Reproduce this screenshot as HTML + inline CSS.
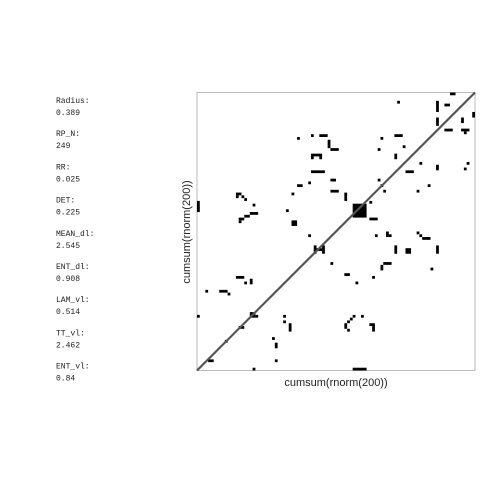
<!DOCTYPE html>
<html><head><meta charset="utf-8"><style>
body{margin:0;background:#fff;width:480px;height:480px;overflow:hidden}
svg{display:block}
.st{font-family:"Liberation Mono",monospace;font-size:8px;fill:#222}
.ax{font-family:"Liberation Sans",sans-serif;font-size:11px;fill:#222}
</style></head><body>
<svg id="chart" width="480" height="480">
<g id="stats"></g>
<rect x="197" y="92.5" width="278" height="278" fill="#fff" stroke="#bbb" stroke-width="1"/>
<g id="cells"></g>
<line id="diag" stroke="#555" stroke-width="2.2"/>
<text class="ax" x="336" y="386" text-anchor="middle">cumsum(rnorm(200))</text>
<text class="ax" x="0" y="0" text-anchor="middle" transform="translate(190,232) rotate(-90)">cumsum(rnorm(200))</text>
</svg>
<script>
const statNames=["Radius:","RP_N:","RR:","DET:","MEAN_dl:","ENT_dl:","LAM_vl:","TT_vl:","ENT_vl:"];
const statValues=["0.389","249","0.025","0.225","2.545","0.908","0.514","2.462","0.84"];
// recurrence blocks: [col,rowFromTop,width,height] in grid units (100x100)
const recCells=[[91,0,2,1],[72,3,1,1],[86,3,1,4],[89,4,2,1],[99,7,1,2],[86,9,1,3],[95,9,1,2],[89,13,3,1],[95,13,3,1],[96,14,1,1],
[71,15,3,1],[41,15,1,1],[44,15,3,1],[36,16,1,1],[66,16,1,1],[47,17,1,3],[48,20,3,1],[74,19,1,1],[65,20,1,1],
[41,22,4,1],[41,23,1,1],[44,23,1,1],[71,22,1,2],[80,25,1,1],[86,26,1,2],[97,25,1,1],[96,27,1,1],[75,28,3,1],[41,28,5,1],
[48,31,2,1],[40,32,1,1],[36,33,2,1],[65,31,1,1],[66,33,1,1],[67,35,1,1],[83,33,1,1],[34,36,1,1],[48,35,3,1],[53,36,1,3],
[14,36,2,1],[14,37,1,1],[16,37,1,1],[17,38,1,1],[20,40,1,1],[79,35,1,1],[56,40,5,5],[62,39,1,1],[0,39,1,4],[32,42,1,1],
[19,43,3,1],[17,44,2,1],[15,45,2,1],[15,46,1,1],[34,46,2,2],[62,45,3,1],[40,51,1,1],[64,51,1,1],[68,50,1,2],[69,51,1,1],
[79,50,1,1],[80,51,1,1],[81,52,3,1],[42,55,1,3],[45,55,1,3],[43,56,2,1],[71,55,1,3],[75,56,2,2],[86,55,1,3],
[48,61,1,1],[67,61,3,1],[66,62,1,2],[84,63,1,1],[53,65,2,1],[57,68,1,1],[63,66,1,1],[14,66,3,1],[17,68,1,1],[19,67,1,2],
[3,71,1,1],[8,71,3,1],[11,72,1,1],[0,80,1,1],[19,79,2,2],[21,80,1,1],[15,84,2,1],[31,80,1,1],[31,82,1,1],[33,83,1,3],
[56,80,1,1],[59,80,1,1],[55,81,1,1],[54,82,1,1],[53,83,1,2],[54,85,1,1],[62,83,2,1],[63,84,1,2],[27,88,1,1],[28,90,1,2],
[28,96,1,1],[20,99,1,1],[56,99,5,1],[4,96,2,1],[10,89,1,1]];
const N=100, X0=197, Y0=92.5, S=278;
const sx=c=>X0+c*S/N, sy=r=>Y0+r*S/N;
const NS="http://www.w3.org/2000/svg";
const st=document.getElementById('stats');
statNames.forEach((n,i)=>{
  const y=103+i*33.2;
  const t=document.createElementNS(NS,'text');t.setAttribute('class','st');t.setAttribute('x',56);t.setAttribute('y',y);t.textContent=n;
  
  
  st.appendChild(t);
  const v=document.createElementNS(NS,'text');v.setAttribute('class','st');v.setAttribute('x',56);v.setAttribute('y',y+12);v.textContent=statValues[i];
  
  
  st.appendChild(v);
});
const g=document.getElementById('cells');
recCells.forEach(d=>{
  const r=document.createElementNS(NS,'rect');
  r.setAttribute('x',sx(d[0]));r.setAttribute('y',sy(d[1]));
  r.setAttribute('width',d[2]*S/N);r.setAttribute('height',d[3]*S/N);r.setAttribute('fill','#000');
  
  
  g.appendChild(r);
});
const dl=document.getElementById('diag');
dl.setAttribute('x1',sx(0));dl.setAttribute('y1',sy(N));dl.setAttribute('x2',sx(N));dl.setAttribute('y2',sy(0));
</script>
</body></html>
